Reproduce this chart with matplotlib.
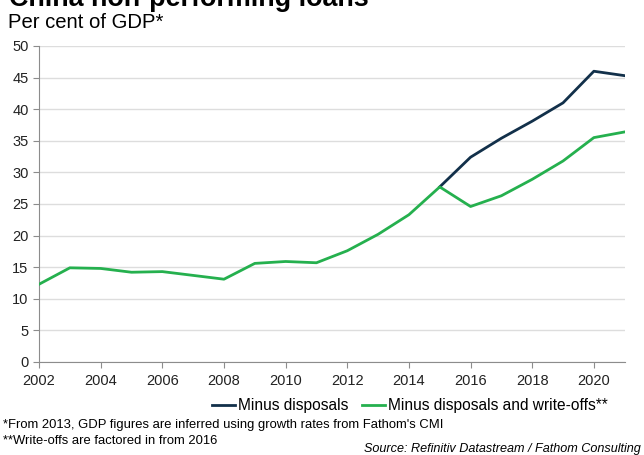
import matplotlib.pyplot as plt

plt.rcParams['font.family'] = ['Liberation Sans', 'DejaVu Sans']

# NPL ratio, per cent of GDP
years = list(range(2002, 2022))
write_offs = [12.3, 14.9, 14.8, 14.2, 14.3, 13.7, 13.1, 15.6, 15.9, 15.7,
              17.6, 20.2, 23.3, 27.7, 24.6, 26.3, 28.9, 31.8, 35.5, 36.4]
disposal_years = list(range(2015, 2022))
disposals = [27.7, 32.4, 35.4, 38.1, 41.0, 46.0, 45.3]

navy = '#12304a'
green = '#25b04e'
grey = '#8c8c8c'

fig = plt.figure(figsize=(6.44, 4.55), dpi=100)
ax = fig.add_axes([0.0606, 0.2044, 0.9094, 0.6946])

ax.plot(disposal_years, disposals, color=navy, lw=2.0, label='Minus disposals', zorder=3)
ax.plot(years, write_offs, color=green, lw=2.0,
        label='Minus disposals and write-offs**', zorder=4)

ax.set_xlim(2002, 2021)
ax.set_ylim(0, 50)
ax.set_yticks(range(0, 51, 5))
ax.set_xticks(range(2002, 2021, 2))
ax.grid(axis='y', color='#dddddd', lw=1)
ax.set_axisbelow(True)
for s in ['top', 'right']:
    ax.spines[s].set_visible(False)
for s in ['left', 'bottom']:
    ax.spines[s].set_color(grey)
ax.tick_params(axis='both', colors=grey, labelcolor='#222222', labelsize=10.5,
               length=4, direction='out')
ax.tick_params(axis='x', pad=5)

fig.text(0.014, 0.987, 'China non-performing loans', fontsize=19.4, fontweight='bold',
         va='baseline', ha='left')
fig.text(0.013, 0.938, 'Per cent of GDP*', fontsize=14.6, va='baseline', ha='left')

fig.legend(loc='center right', bbox_to_anchor=(0.965, 0.108), ncol=2, frameon=False,
           fontsize=11.2, handlelength=1.5, handletextpad=0.15, columnspacing=0.9)

fig.text(0.004, 0.066, "*From 2013, GDP figures are inferred using growth rates from Fathom's CMI",
         fontsize=9.4, va='center')
fig.text(0.004, 0.031, "**Write-offs are factored in from 2016", fontsize=9.4, va='center')
fig.text(0.995, 0.013, 'Source: Refinitiv Datastream / Fathom Consulting', fontsize=9.1,
         style='italic', ha='right', va='center')

fig.savefig('out.png', dpi=100)
